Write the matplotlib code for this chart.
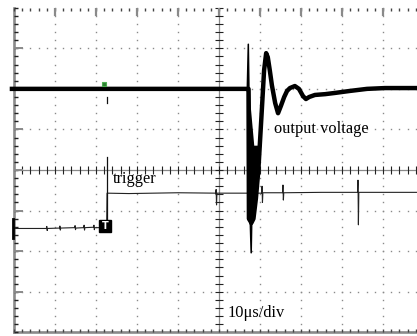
import matplotlib.pyplot as plt
import numpy as np

# Output voltage sweep (time in us, amplitude in divisions)
out_t = [-0.5, 56.8, 57.2, 57.3, 57.9, 58.4, 59.0, 59.6, 60.4, 61.0, 61.5, 61.9,
         62.4, 62.9, 63.7, 64.4, 65.1, 65.9, 66.6, 67.3, 68.5, 69.5, 70.5, 71.2,
         72.0, 73.4, 75.9, 78.3, 82.0, 86.1, 90.5, 98.3]
out_v = [2.0, 2.0, 2.0, -1.2, -1.3, -1.2, -0.7, 0.0, 1.4, 2.46, 2.88, 2.78,
         2.45, 2.09, 1.65, 1.40, 1.58, 1.80, 1.95, 2.02, 2.07, 2.0, 1.82, 1.75,
         1.80, 1.85, 1.87, 1.90, 1.95, 2.0, 2.02, 2.02]

# envelope of overlapping sweeps during switching
burst_t = [56.9, 56.9, 57.5, 58.2, 58.8, 59.6, 60.3, 58.6, 57.8, 57.6]
burst_v = [2.0, -1.1, -1.35, -1.35, -1.0, -0.1, 0.6, 0.6, 1.5, 2.0]

# fast spikes on the output at switching
spike_t = [56.9, 57.15, 57.3, 57.6, 57.85, 58.0]
spike_v = [2.0, 3.1, 2.0, -1.2, -2.04, -1.2]

# Trigger signal
trig_t = [0.0, 7.9, 8.0, 8.1, 8.2, 11.1, 11.2, 11.3, 11.4, 14.8, 14.9, 15.0, 15.1,
          17.0, 17.1, 17.2, 17.3, 19.4, 19.5, 19.6, 19.7, 22.6, 22.7, 28.0, 40.0,
          49.2, 49.3, 49.4, 49.5, 55.0, 60.4, 60.5, 60.6, 60.7, 65.5, 65.6, 65.7,
          65.8, 75.0, 83.8, 83.9, 84.0, 84.1, 98.3]
trig_v = [-1.44, -1.44, -1.39, -1.49, -1.44, -1.43, -1.38, -1.48, -1.43, -1.42,
          -1.37, -1.47, -1.43, -1.42, -1.36, -1.48, -1.42, -1.41, -1.36, -1.47,
          -1.42, -1.42, -0.57, -0.58, -0.56, -0.57, -0.48, -0.86, -0.57, -0.57,
          -0.57, -0.40, -0.80, -0.56, -0.56, -0.37, -0.74, -0.56, -0.55, -0.55,
          -0.25, -1.35, -0.55, -0.55]
trig_time = 22.7

fig = plt.figure(figsize=(4.17, 3.36), dpi=100)
ax = fig.add_axes([0, 0, 1, 1])
ax.set_xlim(-3.41, 98.29)
ax.set_ylim(-4.09, 4.19)
ax.axis('off')

grid_c = '#8a8a8a'
minor_t = np.arange(0, 101, 2.0)
minor_v = np.arange(-4, 4.01, 0.2)

# dotted graticule
for x in range(10, 100, 10):
    if x != 50:
        ax.plot(np.full_like(minor_v, x), minor_v, ls='none', marker='s', ms=1.0,
                mew=0, color=grid_c)
for y in range(-3, 4):
    if y != 0:
        ax.plot(minor_t, np.full_like(minor_t, y), ls='none', marker='s', ms=1.0,
                mew=0, color=grid_c)

# centre axes with ticks
ax.plot([0, 100], [0, 0], color=grid_c, lw=0.9)
ax.plot([50, 50], [-4, 4], color=grid_c, lw=0.9)
ax.vlines(minor_t, -0.1, 0.1, color='#222222', lw=0.8)
ax.hlines(minor_v, 49.0, 51.0, color='#222222', lw=0.8)

# frame
ax.plot([0, 0], [-4, 4], color=grid_c, lw=1.9)
ax.plot([0, 100], [-4, -4], color=grid_c, lw=1.9)
ax.hlines(minor_v, 0, 1.0, color='#222222', lw=1.0)
ax.hlines(range(-3, 4), 0, 2.3, color=grid_c, lw=1.4)
ax.vlines(minor_t, 3.91, 4.0, color='#444444', lw=1.0)
ax.vlines(range(10, 100, 10), 3.8, 4.0, color=grid_c, lw=1.6)
ax.vlines(minor_t, -4.0, -3.92, color='#444444', lw=1.0)

# traces
ax.plot(trig_t, trig_v, color='#222222', lw=0.8, zorder=3)
ax.plot([trig_time, trig_time], [-1.43, 0.32], color='#111111', lw=0.9, zorder=3)
ax.plot([trig_time, trig_time], [1.65, 1.80], color='#111111', lw=0.9, zorder=3)
ax.fill(burst_t, burst_v, color='black', lw=0, zorder=4)
ax.plot(out_t, out_v, color='black', lw=3.2, zorder=4)
ax.plot(spike_t, spike_v, color='black', lw=1.1, zorder=4)

# channel / trigger markers
ax.plot([-0.15, -0.15], [-1.2, -1.67], color='black', lw=2.0, zorder=4)
ax.plot(22.3, -1.38, marker='s', ms=8.3, color='black', zorder=5)
ax.text(22.3, -1.39, 'T', color='white', fontsize=7, fontweight='bold',
        ha='center', va='center', zorder=6)
ax.plot(21.95, 2.12, marker='s', ms=3.5, mfc='#2e7d32', mec='#4caf50', mew=0.8, zorder=5)

serif = 'Liberation Serif'
ax.text(63.4, 0.91, 'output voltage', family=serif, fontsize=11.8, va='baseline')
ax.text(24.15, -0.32, 'trigger', family=serif, fontsize=11.8, va='baseline')
ax.text(52.2, -3.62, '10μs/div', family=serif, fontsize=11.8, va='baseline')

fig.savefig('out.png', dpi=100)
